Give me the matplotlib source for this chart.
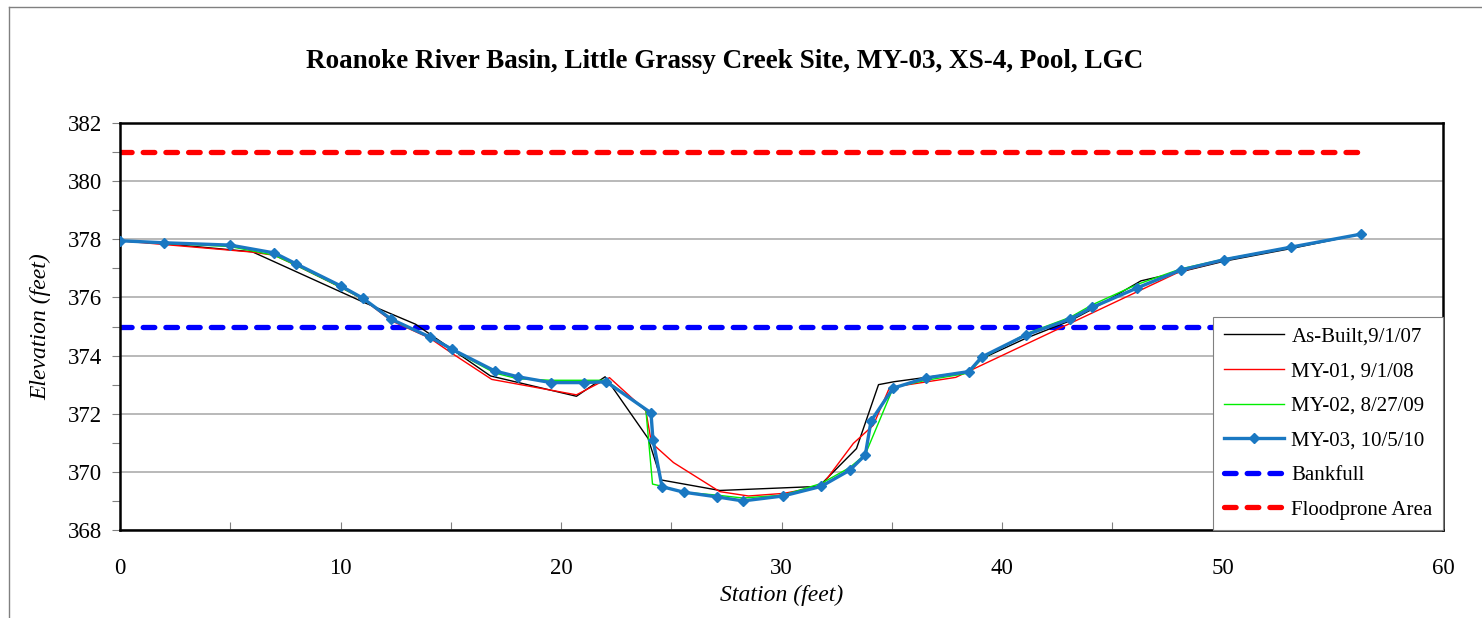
import matplotlib
matplotlib.use("Agg")
import matplotlib.pyplot as plt
from matplotlib.lines import Line2D
from matplotlib.ticker import MultipleLocator

plt.rcParams['font.family'] = ['Liberation Serif', 'DejaVu Serif']

title = "Roanoke River Basin, Little Grassy Creek Site, MY-03, XS-4, Pool, LGC"

# As-Built, 9/1/07
x_asbuilt = [0, 2, 6, 11, 13.4, 16.8, 20.7, 22.0, 23.95, 24.55, 27.2, 31.7, 33.4, 34.4, 35.1,
             38.5, 39.1, 41.1, 43.1, 44.1, 46.3, 48.2, 50.1, 53.1, 56.3]
y_asbuilt = [377.95, 377.85, 377.57, 375.85, 375.08, 373.3, 372.6, 373.27, 371.15, 369.72, 369.36,
             369.5, 370.8, 373.0, 373.1, 373.45, 373.9, 374.6, 375.2, 375.6, 376.57, 376.9, 377.25,
             377.68, 378.18]

# MY-01, 9/1/08
x_my01 = [0, 2, 6, 7, 8, 10, 11, 12.3, 14.05, 15.05, 16.86, 20.7, 22.2, 23.85, 24.1, 25.1, 27.2,
          28.5, 30.1, 31.8, 33.26, 34.16, 34.9, 37.9, 48.07, 50.1, 53.1, 56.3]
y_my01 = [377.95, 377.82, 377.56, 377.45, 377.1, 376.35, 375.95, 375.2, 374.6, 374.08, 373.18,
          372.65, 373.24, 372.1, 371.0, 370.32, 369.32, 369.17, 369.26, 369.5, 370.98, 371.6, 372.9,
          373.25, 376.89, 377.28, 377.72, 378.18]

# MY-02, 8/27/09
x_my02 = [0, 2, 5, 7, 8, 10, 11, 12.3, 14.05, 15.05, 17, 18.05, 19.55, 21.05, 22.05, 23.85,
          24.15, 24.6, 25.57, 27.07, 28.25, 30.07, 31.8, 33.1, 33.8, 35.07, 36.55, 38.5, 39.08,
          41.09, 43.1, 44.1, 46.14, 48.1, 50.08, 53.1, 56.3]
y_my02 = [377.95, 377.86, 377.75, 377.45, 377.1, 376.35, 375.95, 375.25, 374.64, 374.2, 373.4,
          373.2, 373.15, 373.15, 373.15, 372.12, 369.58, 369.5, 369.3, 369.2, 369.1, 369.2, 369.6,
          370.15, 370.6, 372.9, 373.15, 373.4, 373.9, 374.75, 375.32, 375.75, 376.45, 376.98,
          377.32, 377.73, 378.18]

# MY-03, 10/5/10
x_my03 = [0, 2, 5, 7, 8, 10, 11, 12.3, 14.05, 15.05, 17, 18.05, 19.55, 21.05, 22.05, 24.08,
          24.17, 24.58, 25.57, 27.07, 28.25, 30.07, 31.8, 33.1, 33.8, 34.06, 35.06, 36.55, 38.5,
          39.08, 41.09, 43.1, 44.1, 46.14, 48.1, 50.08, 53.1, 56.3]
y_my03 = [377.95, 377.88, 377.8, 377.53, 377.15, 376.4, 375.98, 375.25, 374.64, 374.22, 373.47,
          373.27, 373.07, 373.07, 373.1, 372.03, 371.11, 369.49, 369.3, 369.14, 369.0, 369.17,
          369.5, 370.06, 370.58, 371.75, 372.88, 373.23, 373.45, 373.95, 374.71, 375.26, 375.66,
          376.33, 376.94, 377.3, 377.73, 378.18]

bankfull_x = [0, 56.3]
bankfull_y = [375.0, 375.0]
flood_x = [0, 56.3]
flood_y = [381.0, 381.0]

fig = plt.figure(figsize=(14.82, 6.18), dpi=100)
ax = fig.add_axes([120/1482, 1-530/618, (1443-120)/1482, (530-123)/618])

ax.plot(x_asbuilt, y_asbuilt, color='black', lw=1.0, label='As-Built,9/1/07', zorder=3)
ax.plot(x_my01, y_my01, color='#ff0000', lw=1.0, label='MY-01, 9/1/08', zorder=3)
ax.plot(x_my02, y_my02, color='#00ee00', lw=1.0, label='MY-02, 8/27/09', zorder=3)
ax.plot(x_my03, y_my03, color='#1a78c2', lw=2.4, marker='D', markersize=5.5,
        label='MY-03, 10/5/10', zorder=4)
bl, = ax.plot(bankfull_x, bankfull_y, color='#0000ff', lw=3.8, label='Bankfull', zorder=2,
              solid_capstyle='round', dash_capstyle='round')
bl.set_dashes([2.2, 2.1])
fl, = ax.plot(flood_x, flood_y, color='#ff0000', lw=3.8, label='Floodprone Area', zorder=2,
              dash_capstyle='round')
fl.set_dashes([2.2, 2.1])

ax.set_xlim(0, 60)
ax.set_ylim(368, 382)
ax.xaxis.set_major_locator(MultipleLocator(10))
ax.xaxis.set_minor_locator(MultipleLocator(5))
ax.yaxis.set_major_locator(MultipleLocator(2))
ax.yaxis.set_minor_locator(MultipleLocator(1))
ax.grid(axis='y', which='major', color='#a6a6a6', lw=1.1, zorder=0)
ax.set_axisbelow(True)
for s in ax.spines.values():
    s.set_linewidth(1.8)
    s.set_color('black')
ax.tick_params(axis='both', which='major', labelsize=16.5, length=6, width=0.8, color='#808080')
ax.tick_params(axis='both', which='minor', length=6, width=0.8, color='#808080')
ax.tick_params(axis='x', which='both', direction='in', pad=20)
ax.tick_params(axis='y', which='both', direction='out', pad=7)

ax.set_xlabel('Station (feet)', fontsize=17, style='italic', labelpad=4)
ax.set_ylabel('Elevation (feet)', fontsize=17, style='italic', labelpad=12)

leg = ax.legend(loc='lower right', bbox_to_anchor=(1.0, 0.0), borderaxespad=0.0,
                fontsize=15, frameon=True, fancybox=False, framealpha=1.0,
                edgecolor='#808080', handlelength=2.9, labelspacing=0.72,
                borderpad=0.5, handletextpad=0.35)
leg.get_frame().set_linewidth(0.8)
leg.set_zorder(10)

fig.text(725/1482, 1-62/618, title, ha='center', va='center', fontsize=19.5, fontweight='bold')

# outer chart border
fig.add_artist(Line2D([9/1482, 9/1482], [0, 1-7/618], color='#808080', lw=1.0))
fig.add_artist(Line2D([9/1482, 1], [1-7/618, 1-7/618], color='#808080', lw=1.0))

fig.savefig('out.png', dpi=100)
